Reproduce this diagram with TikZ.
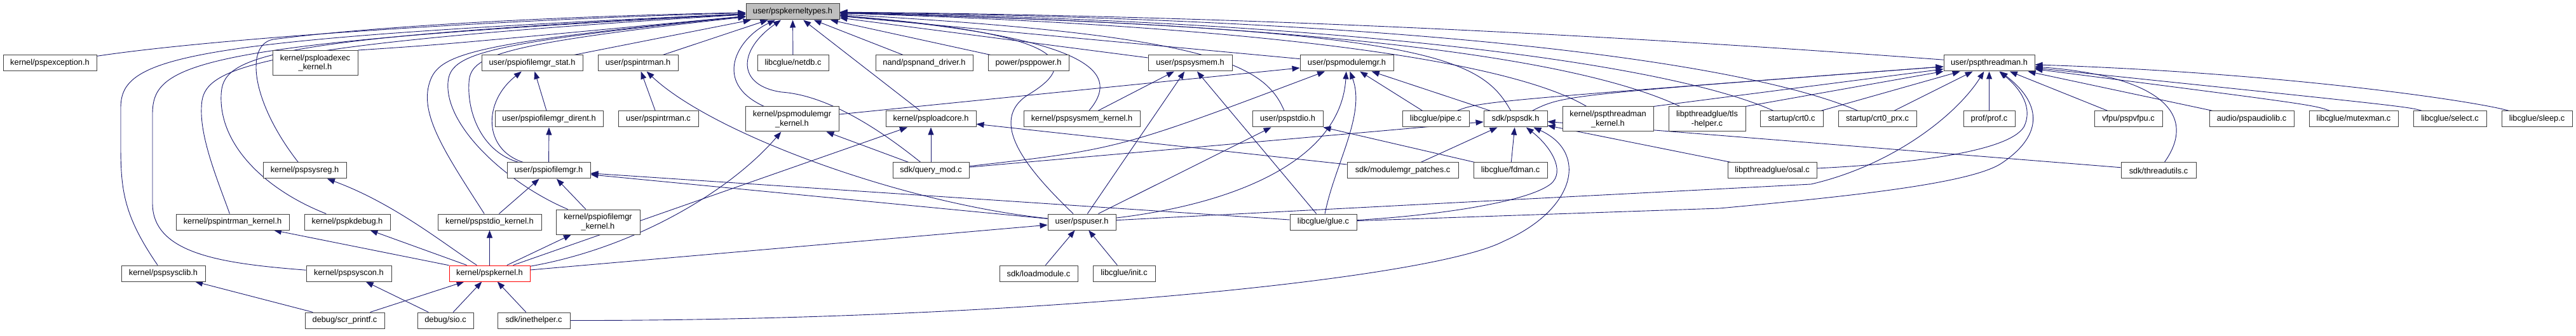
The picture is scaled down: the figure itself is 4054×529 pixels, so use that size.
\documentclass[tikz,border=0pt]{standalone}
\usepackage{fontspec}
\setmainfont{Liberation Sans}
\usetikzlibrary{arrows.meta}
\pgfdeclarelayer{bg}
\pgfsetlayers{bg,main}
\definecolor{edgec}{HTML}{191970}
\begin{document}
\begin{tikzpicture}[x=1pt,y=-1pt,
  box/.style={draw=black!75, fill=white, line width=1pt, minimum height=25pt, inner sep=1pt, font=\fontsize{12.8pt}{14.5pt}\selectfont},
  tl/.style={box, align=center, minimum height=39pt},
  e/.style={draw=edgec, line width=0.9pt, -{Triangle[length=12pt,width=9pt]}}]
\useasboundingbox (0,0) rectangle (4054,529);
% row 0
\node[box, fill=black!25, minimum width=147pt] (types) at (1247.5,18.5) {user/pspkerneltypes.h};
% row 1
\node[box, minimum width=147pt] (exc) at (78.5,99.5) {kernel/pspexception.h};
\node[tl, minimum width=134pt] (lek) at (496,99) {kernel/psploadexec\\\_kernel.h};
\node[box, minimum width=159pt] (stat) at (837.5,99.5) {user/pspiofilemgr\_stat.h};
\node[box, minimum width=126pt] (intr) at (1004,99.5) {user/pspintrman.h};
\node[box, minimum width=112pt] (netdb) at (1248,99.5) {libcglue/netdb.c};
\node[box, minimum width=153pt] (nand) at (1454.5,99.5) {nand/pspnand\_driver.h};
\node[box, minimum width=127pt] (power) at (1618.5,99.5) {power/psppower.h};
\node[box, minimum width=132pt] (sysmem) at (1873,99.5) {user/pspsysmem.h};
\node[box, minimum width=147pt] (modmgr) at (2119.5,99.5) {user/pspmodulemgr.h};
\node[box, minimum width=143pt] (thr) at (3130.5,99.5) {user/pspthreadman.h};
% row 2
\node[box, minimum width=170pt] (dirent) at (864,187.5) {user/pspiofilemgr\_dirent.h};
\node[box, minimum width=126pt] (intrc) at (1036,187.5) {user/pspintrman.c};
\node[tl, minimum width=147pt] (mmk) at (1246.5,187.5) {kernel/pspmodulemgr\\\_kernel.h};
\node[box, minimum width=142pt] (lcore) at (1465,187.5) {kernel/psploadcore.h};
\node[box, minimum width=183pt] (smk) at (1702.5,187.5) {kernel/pspsysmem\_kernel.h};
\node[box, minimum width=111pt] (stdio) at (2026.5,187.5) {user/pspstdio.h};
\node[box, minimum width=105pt] (pipe) at (2259.5,187.5) {libcglue/pipe.c};
\node[box, minimum width=100pt] (sdk) at (2385,187.5) {sdk/pspsdk.h};
\node[tl, minimum width=143pt] (tmk) at (2530.5,187.5) {kernel/pspthreadman\\\_kernel.h};
\node[tl, minimum width=121pt] (tls) at (2686.5,187.5) {libpthreadglue/tls\\-helper.c};
\node[box, minimum width=99pt] (crt0) at (2819.5,187.5) {startup/crt0.c};
\node[box, minimum width=123pt] (crtprx) at (2954.5,187.5) {startup/crt0\_prx.c};
\node[box, minimum width=81pt] (prof) at (3130.5,187.5) {prof/prof.c};
\node[box, minimum width=107pt] (vfpu) at (3349.5,187.5) {vfpu/pspvfpu.c};
\node[box, minimum width=133pt] (audio) at (3543.5,187.5) {audio/pspaudiolib.c};
\node[box, minimum width=140pt] (mutex) at (3704,187.5) {libcglue/mutexman.c};
\node[box, minimum width=115pt] (select) at (3855.5,187.5) {libcglue/select.c};
\node[box, minimum width=111pt] (sleep) at (3992.5,187.5) {libcglue/sleep.c};
% row 3
\node[box, minimum width=131pt] (sysreg) at (479.5,268.5) {kernel/pspsysreg.h};
\node[box, minimum width=131pt] (iof) at (863.5,268.5) {user/pspiofilemgr.h};
\node[box, minimum width=120pt] (qmod) at (1465,268.5) {sdk/query\_mod.c};
\node[box, minimum width=175pt] (mpatch) at (2207.5,268.5) {sdk/modulemgr\_patches.c};
\node[box, minimum width=116pt] (fdman) at (2377,268.5) {libcglue/fdman.c};
\node[box, minimum width=140pt] (osal) at (2789,268.5) {libpthreadglue/osal.c};
\node[box, minimum width=118pt] (tutil) at (3397,268.5) {sdk/threadutils.c};
% row 4
\node[box, minimum width=178pt] (ikern) at (366,349.5) {kernel/pspintrman\_kernel.h};
\node[box, minimum width=135pt] (kdbg) at (546.5,349.5) {kernel/pspkdebug.h};
\node[box, minimum width=163pt] (stdk) at (770.5,349.5) {kernel/pspstdio\_kernel.h};
\node[tl, minimum width=132pt] (iofk) at (941,349.5) {kernel/pspiofilemgr\\\_kernel.h};
\node[box, minimum width=107pt] (user) at (1702.5,349.5) {user/pspuser.h};
\node[box, minimum width=105pt] (glue) at (2082.5,349.5) {libcglue/glue.c};
% row 5
\node[box, minimum width=132pt] (sclib) at (257,430.5) {kernel/pspsysclib.h};
\node[box, minimum width=134pt] (syscon) at (549,430.5) {kernel/pspsyscon.h};
\node[box, draw=red, minimum width=127pt] (kern) at (770.5,430.5) {kernel/pspkernel.h};
\node[box, minimum width=123pt] (loadm) at (1634.5,430.5) {sdk/loadmodule.c};
\node[box, minimum width=98pt] (init) at (1769,430.5) {libcglue/init.c};
% row 6
\node[box, minimum width=125pt] (scr) at (542.5,504.5) {debug/scr\_printf.c};
\node[box, minimum width=88pt] (sio) at (701,504.5) {debug/sio.c};
\node[box, minimum width=114pt] (ineth) at (840,504.5) {sdk/inethelper.c};

\begin{pgfonlayer}{bg}
% --- into pspkerneltypes.h
\draw[e] (exc) .. controls (340,60) and (800,30) .. (types);
\draw[e] (lek.north east) .. controls (700,70) .. (types);
\draw[e] (sysreg) .. controls (395,160) and (385,70) .. (430,62) .. controls (600,40) and (900,25) .. (types);
\draw[e] (kdbg) .. controls (420,300) and (345,230) .. (348,150) .. controls (350,90) and (400,60) .. (types);
\draw[e] (sclib) .. controls (195,340) and (190,300) .. (190,230) -- (190,170) .. controls (190,90) and (280,62) .. (types);
\draw[e] (syscon) .. controls (350,415) and (240,400) .. (240,320) -- (240,180) .. controls (240,100) and (300,68) .. (types);
\draw[e] (ikern) .. controls (345,290) and (315,220) .. (317,170) .. controls (318,110) and (360,72) .. (types);
\draw[e] (stdk) .. controls (700,240) and (660,180) .. (676,130) .. controls (690,85) and (740,68) .. (types);
\draw[e] (iofk) .. controls (800,290) and (700,200) .. (705,130) .. controls (708,85) and (760,68) .. (types);
\draw[e] (iof) .. controls (760,240) and (735,180) .. (738,130) .. controls (740,88) and (780,70) .. (types);
\draw[e] (stat) -- (types);
\draw[e] (intr) -- (types);
\draw[e] (netdb) -- (types);
\draw[e] (mmk) .. controls (1120,130) and (1160,60) .. (types);
\draw[e] (qmod) .. controls (1380,200) and (1300,150) .. (1230,145) .. controls (1160,135) and (1160,80) .. (types);
\draw[e] (lcore) -- (types);
\draw[e] (nand) -- (types);
\draw[e] (power) -- (types);
\draw[e] (sysmem) -- (types);
\draw[e] (smk) .. controls (1760,120) and (1740,60) .. (types);
\draw[e] (user) .. controls (1620,270) and (1550,190) .. (1620,148) .. controls (1690,105) and (1705,55) .. (types);
\draw[e] (stdio) .. controls (1990,100) and (1900,55) .. (types);
\draw[e] (modmgr) -- (types);
\draw[e] (sdk) .. controls (2330,90) and (2250,45) .. (types);
\draw[e] (tmk) .. controls (2400,110) and (2100,45) .. (types);
\draw[e] (tls) .. controls (2500,100) and (2150,40) .. (types);
\draw[e] (crt0) .. controls (2650,110) and (2200,35) .. (types);
\draw[e] (crtprx) .. controls (2750,100) and (2250,30) .. (types);
\draw[e] (thr) .. controls (2600,60) and (2000,25) .. (types);
% --- io file manager group
\draw[e] (iof) .. controls (760,235) and (760,160) .. (stat);
\draw[e] (dirent) -- (stat);
\draw[e] (iof) -- (dirent);
\draw[e] (stdk) -- (iof);
\draw[e] (iofk) -- (iof);
\draw[e] (user) -- (iof);
\draw[e] (glue) -- (iof);
% --- intrman
\draw[e] (intrc) -- (intr);
\draw[e] (user) .. controls (1420,320) and (1120,210) .. (intr);
% --- pspkernel.h
\draw[e] (kern) -- (stdk);
\draw[e] (kern) -- (iofk);
\draw[e] (kern) .. controls (700,385) and (620,320) .. (sysreg);
\draw[e] (kern) -- (kdbg);
\draw[e] (kern) -- (ikern);
\draw[e] (kern) .. controls (1000,390) and (1150,300) .. (mmk);
\draw[e] (kern) -- (lcore);
\draw[e] (kern) -- (user);
\draw[e] (scr) -- (sclib);
\draw[e] (sio) -- (syscon);
\draw[e] (scr) -- (kern);
\draw[e] (sio) -- (kern);
\draw[e] (ineth) -- (kern);
% --- module manager / loadcore
\draw[e] (qmod) -- (mmk);
\draw[e] (qmod) -- (lcore);
\draw[e] (mpatch) -- (lcore);
\draw[e] (mmk) -- (modmgr);
\draw[e] (qmod) .. controls (1760,235) .. (modmgr);
\draw[e] (user) .. controls (1950,320) and (2110,250) .. (modmgr);
\draw[e] (glue) .. controls (2100,260) and (2150,180) .. (modmgr);
\draw[e] (pipe) -- (modmgr);
\draw[e] (sdk) -- (modmgr);
% --- pspuser.h
\draw[e] (loadm) -- (user);
\draw[e] (init) -- (user);
% --- sysmem / stdio
\draw[e] (smk) -- (sysmem);
\draw[e] (user) -- (sysmem);
\draw[e] (glue) -- (sysmem);
\draw[e] (user) -- (stdio);
\draw[e] (fdman) -- (stdio);
% --- pspsdk.h
\draw[e] (fdman) -- (sdk);
\draw[e] (mpatch) -- (sdk);
\draw[e] (qmod) -- (sdk);
\draw[e] (glue) .. controls (2250,340) and (2400,320) .. (2440,290) .. controls (2465,270) and (2440,230) .. (sdk);
\draw[e] (ineth) .. controls (1600,505) and (2250,440) .. (2366,380) .. controls (2480,330) and (2500,240) .. (sdk);
\draw[e] (tutil) -- (sdk);
\draw[e] (osal) -- (sdk);
% --- pspthreadman.h
\draw[e] (sdk) .. controls (2460,150) .. (thr);
\draw[e] (pipe) .. controls (2330,160) .. (thr);
\draw[e] (tmk.north east) -- (thr);
\draw[e] (tls.north east) -- (thr);
\draw[e] (crt0) -- (thr);
\draw[e] (crtprx) -- (thr);
\draw[e] (prof) -- (thr);
\draw[e] (vfpu) -- (thr);
\draw[e] (audio) -- (thr);
\draw[e] (mutex) .. controls (3640,165) .. (thr);
\draw[e] (select) .. controls (3790,168) .. (thr);
\draw[e] (sleep) .. controls (3900,160) and (3600,115) .. (thr);
\draw[e] (tutil) .. controls (3460,180) and (3400,120) .. (thr);
\draw[e] (osal) .. controls (3000,258) and (3160,240) .. (3185,200) .. controls (3200,170) and (3180,140) .. (thr);
\draw[e] (glue) -- (2706,328) .. controls (2900,310) and (3100,290) .. (3150,257) .. controls (3220,210) and (3210,160) .. (thr);
\draw[e] (user) -- (2850,290) .. controls (2980,260) and (3080,180) .. (thr);
\end{pgfonlayer}
\end{tikzpicture}
\end{document}
